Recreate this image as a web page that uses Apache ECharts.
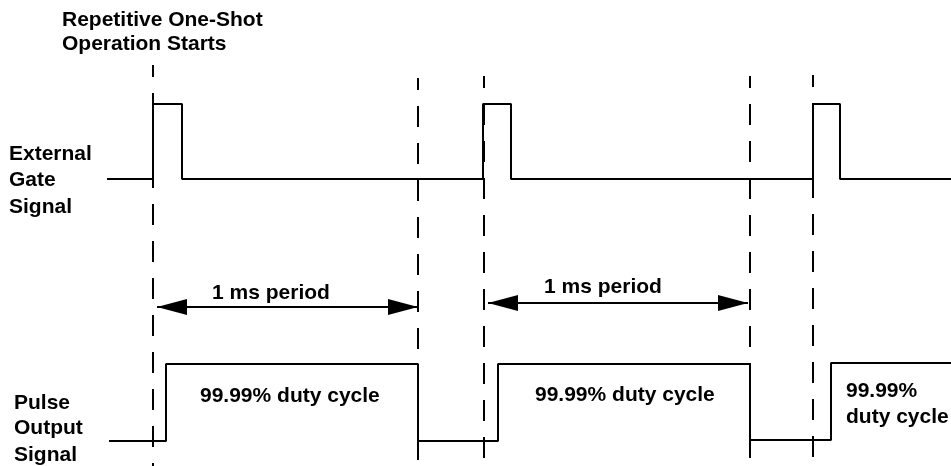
<!DOCTYPE html>
<html>
<head>
<meta charset="utf-8">
<script src="https://cdn.jsdelivr.net/npm/echarts@6/dist/echarts.min.js"></script>
<style>
  html, body { margin: 0; padding: 0; background: #fff; }
  #chart { width: 951px; height: 466px; }
</style>
</head>
<body>
<div id="chart"></div>
<script>
// schematic timing diagram, time axis is arbitrary units (not to scale)
const gateTimes = [107, 153, 182, 483, 511, 813, 840, 951]
const gateLevels = [179, 104, 179, 104, 179, 104, 179, 179]

const pulseTimes = [109, 166, 418, 498, 750, 831, 951]
const pulseLevels = [441, 364, 441, 364, 440, 363, 363]

// dashed marker lines
const markerTimes = [153, 418, 484, 750, 813]
const markerTops = [65, 78, 76, 76, 75]
const markerBottom = 466

// "1 ms period" arrows
const periodStarts = [157, 488]
const periodEnds = [418, 748]
const periodLevels = [307, 303]

const titleText = ['Repetitive One-Shot', 'Operation Starts']
const gateText = ['External', 'Gate', 'Signal']
const pulseText = ['Pulse', 'Output', 'Signal']
const periodText = '1 ms period'
const dutyText = '99.99% duty cycle'
const dutyTextShort = ['99.99%', 'duty cycle']

const FONT = '"Liberation Sans", Arial, Helvetica, sans-serif'
const INK = '#000'

let chart = echarts.init(document.getElementById('chart'), null, { renderer: 'canvas' })

function toPoints(xs, ys) {
  return xs.map((x, i) => [x, ys[i]])
}

function txt(text, left, cy) {
  return {
    type: 'text',
    x: left,
    y: cy,
    style: {
      text: text,
      fill: INK,
      font: 'bold 21px ' + FONT,
      verticalAlign: 'middle',
      align: 'left'
    }
  }
}

let series = []

// signals
series.push({
  name: 'External Gate Signal',
  type: 'line',
  step: 'end',
  symbol: 'none',
  data: toPoints(gateTimes, gateLevels),
  lineStyle: { color: INK, width: 2 },
  z: 3
})
series.push({
  name: 'Pulse Output Signal',
  type: 'line',
  step: 'end',
  symbol: 'none',
  data: toPoints(pulseTimes, pulseLevels),
  lineStyle: { color: INK, width: 2 },
  z: 3
})

// dashed markers
for (let i = 0; i < markerTimes.length; i++) {
  series.push({
    type: 'line',
    symbol: 'none',
    data: [[markerTimes[i], markerTops[i]], [markerTimes[i], markerBottom]],
    lineStyle: { color: INK, width: 2, type: [21, 16], dashOffset: 9 },
    z: 2
  })
}

// period arrows
for (let i = 0; i < periodStarts.length; i++) {
  series.push({
    type: 'line',
    symbol: 'triangle',
    symbolSize: [16, 30],
    showAllSymbol: true,
    itemStyle: { color: INK },
    data: [
      { value: [periodStarts[i], periodLevels[i]], symbolRotate: 90, symbolOffset: [15, 0] },
      { value: [periodEnds[i], periodLevels[i]], symbolRotate: -90, symbolOffset: [-15, 0] }
    ],
    lineStyle: { color: INK, width: 2 },
    z: 4
  })
}

let graphic = [
  txt(titleText[0], 62, 20),
  txt(titleText[1], 62, 44),
  txt(gateText[0], 9, 154),
  txt(gateText[1], 9, 180),
  txt(gateText[2], 9, 207),
  txt(pulseText[0], 14, 403),
  txt(pulseText[1], 14, 428),
  txt(pulseText[2], 14, 455),
  txt(periodText, 212, 293),
  txt(periodText, 544, 287),
  txt(dutyText, 200, 396),
  txt(dutyText, 535, 395),
  txt(dutyTextShort[0], 846, 391),
  txt(dutyTextShort[1], 846, 417)
]

chart.setOption({
  animation: false,
  backgroundColor: '#fff',
  grid: { left: 0, right: 0, top: 0, bottom: 0 },
  xAxis: { type: 'value', min: 0, max: 951, show: false },
  yAxis: { type: 'value', min: 0, max: 466, inverse: true, show: false },
  series: series,
  graphic: graphic
})
</script>
</body>
</html>
